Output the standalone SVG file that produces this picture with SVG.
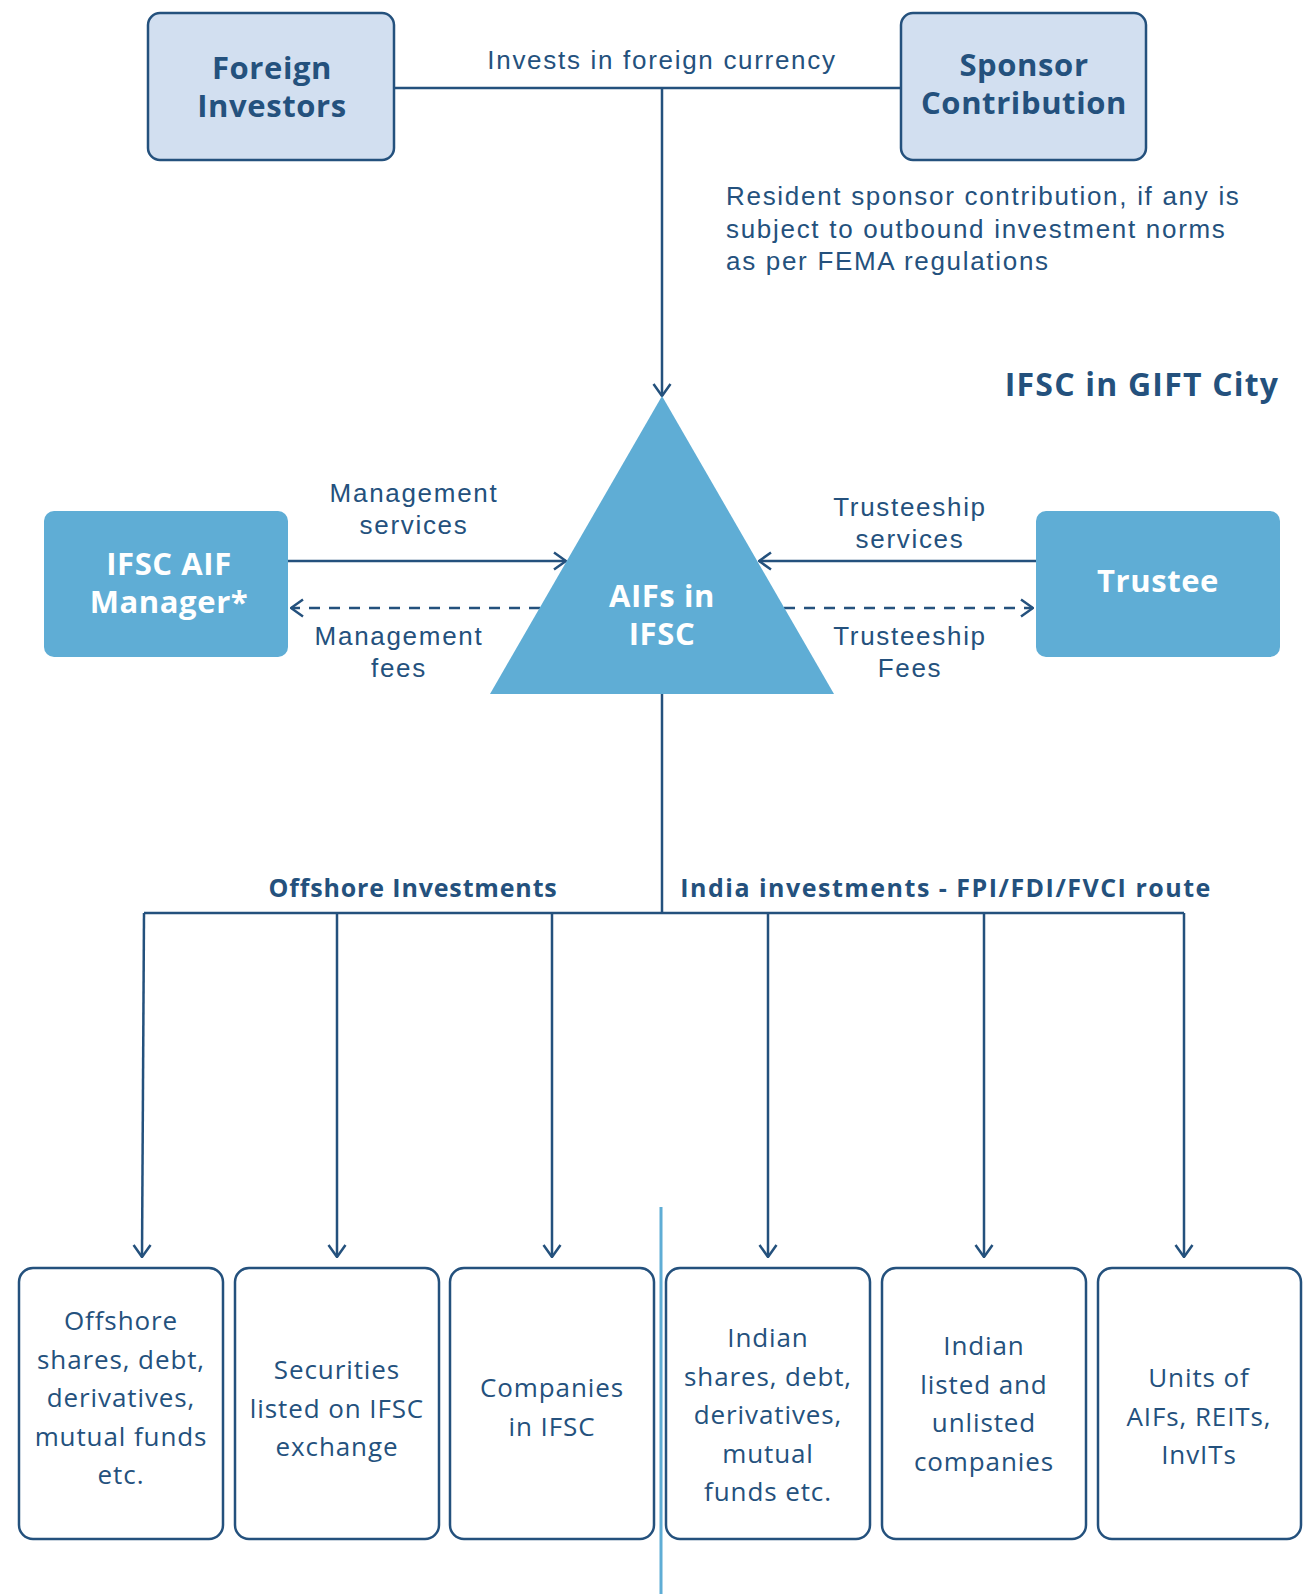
<svg xmlns="http://www.w3.org/2000/svg" width="1303" height="1594" viewBox="0 0 1303 1594">
<defs>
<style>
.lbl{font-family:"Liberation Sans",Arial,sans-serif;font-size:26px;letter-spacing:1.7px;fill:#24517d;text-anchor:middle}
.lbl-l{font-family:"Liberation Sans",Arial,sans-serif;font-size:26px;letter-spacing:1.7px;fill:#24517d}
.hb{font-family:"Open Sans","Liberation Sans",sans-serif;font-weight:700;fill:#24517d;text-anchor:middle}
.wb{font-family:"Open Sans","Liberation Sans",sans-serif;font-weight:700;fill:#ffffff;text-anchor:middle;font-size:31px;letter-spacing:0.6px}
.line{fill:none;stroke:#24517d;stroke-width:2.5}
.dash{fill:none;stroke:#24517d;stroke-width:2.5;stroke-dasharray:11 9}
.top{fill:#d2dff0;stroke:#24517d;stroke-width:2.5}
.solid{fill:#5fadd5}
.leaf{fill:#ffffff;stroke:#24517d;stroke-width:2.5}
.btxt{font-family:"Open Sans","Liberation Sans",sans-serif;font-size:26px;letter-spacing:0.9px;fill:#24517d;text-anchor:middle}
</style>
<marker id="arr" viewBox="0 0 14 20" refX="13" refY="10" markerWidth="14" markerHeight="20" orient="auto" markerUnits="userSpaceOnUse">
<path d="M1,1.5 L13,10 L1,18.5" fill="none" stroke="#24517d" stroke-width="2.5"/>
</marker>
</defs>
<rect width="1303" height="1594" fill="#ffffff"/>

<g id="connectors">
<path class="line" d="M394,88 H901"/>
<path class="line" d="M662,88 V396" marker-end="url(#arr)"/>
<path class="line" d="M288,561 H566" marker-end="url(#arr)"/>
<path class="dash" d="M540,608 H291" marker-end="url(#arr)"/>
<path class="line" d="M1036,561 H759" marker-end="url(#arr)"/>
<path class="dash" d="M784,608 H1033" marker-end="url(#arr)"/>
<path class="line" d="M662,694 V913"/>
<path class="line" d="M144,913 H1184"/>
<path class="line" d="M144,913 L142,1257" marker-end="url(#arr)"/>
<path class="line" d="M337,913 V1257" marker-end="url(#arr)"/>
<path class="line" d="M552,913 V1257" marker-end="url(#arr)"/>
<path class="line" d="M768,913 V1257" marker-end="url(#arr)"/>
<path class="line" d="M984,913 V1257" marker-end="url(#arr)"/>
<path class="line" d="M1184,913 V1257" marker-end="url(#arr)"/>
<line x1="661" y1="1207" x2="661" y2="1594" stroke="#5fadd5" stroke-width="3"/>
</g>

<g id="labels">
<text class="lbl" x="662" y="69">Invests in foreign currency</text>
<text class="lbl-l" x="726" y="205">Resident sponsor contribution, if any is<tspan x="726" dy="33">subject to outbound investment norms</tspan><tspan x="726" dy="32">as per FEMA regulations</tspan></text>
<text class="hb" x="1142" y="396" font-size="32" letter-spacing="1.2">IFSC in GIFT City</text>
<text class="lbl" x="414" y="502">Management<tspan x="414" dy="32">services</tspan></text>
<text class="lbl" x="399" y="645">Management<tspan x="399" dy="32">fees</tspan></text>
<text class="lbl" x="910" y="516">Trusteeship<tspan x="910" dy="32">services</tspan></text>
<text class="lbl" x="910" y="645">Trusteeship<tspan x="910" dy="32">Fees</tspan></text>
<text class="hb" x="413" y="897" font-size="25" letter-spacing="0.85">Offshore Investments</text>
<text class="hb" x="946" y="897" font-size="25" letter-spacing="1.5">India investments - FPI/FDI/FVCI route</text>
</g>

<g id="foreign-investors">
<rect class="top" x="148" y="13" width="246" height="147" rx="12"/>
<text class="hb" x="272" y="79" font-size="31" letter-spacing="0.6">Foreign<tspan x="272" dy="38">Investors</tspan></text>
</g>

<g id="sponsor-contribution">
<rect class="top" x="901" y="13" width="245" height="147" rx="12"/>
<text class="hb" x="1024" y="76" font-size="31" letter-spacing="0.6">Sponsor<tspan x="1024" dy="38">Contribution</tspan></text>
</g>

<g id="aifs-in-ifsc">
<polygon class="solid" points="662,396 834,694 490,694"/>
<text class="wb" x="662" y="607">AIFs in<tspan x="662" dy="38">IFSC</tspan></text>
</g>

<g id="ifsc-aif-manager">
<rect class="solid" x="44" y="511" width="244" height="146" rx="10"/>
<text class="wb" x="169" y="575">IFSC AIF<tspan x="169" dy="38">Manager*</tspan></text>
</g>

<g id="trustee">
<rect class="solid" x="1036" y="511" width="244" height="146" rx="10"/>
<text class="wb" x="1158" y="592">Trustee</text>
</g>

<g id="offshore-shares">
<rect class="leaf" x="19" y="1268" width="204" height="271" rx="14"/>
<text class="btxt" x="121" y="1330">Offshore<tspan x="121" dy="38.5">shares, debt,</tspan><tspan x="121" dy="38.5">derivatives,</tspan><tspan x="121" dy="38.5">mutual funds</tspan><tspan x="121" dy="38.5">etc.</tspan></text>
</g>

<g id="securities-ifsc">
<rect class="leaf" x="235" y="1268" width="204" height="271" rx="14"/>
<text class="btxt" x="337" y="1379">Securities<tspan x="337" dy="38.5">listed on IFSC</tspan><tspan x="337" dy="38.5">exchange</tspan></text>
</g>

<g id="companies-ifsc">
<rect class="leaf" x="450" y="1268" width="204" height="271" rx="14"/>
<text class="btxt" x="552" y="1397">Companies<tspan x="552" dy="38.5">in IFSC</tspan></text>
</g>

<g id="indian-shares">
<rect class="leaf" x="666" y="1268" width="204" height="271" rx="14"/>
<text class="btxt" x="768" y="1347">Indian<tspan x="768" dy="38.5">shares, debt,</tspan><tspan x="768" dy="38.5">derivatives,</tspan><tspan x="768" dy="38.5">mutual</tspan><tspan x="768" dy="38.5">funds etc.</tspan></text>
</g>

<g id="indian-companies">
<rect class="leaf" x="882" y="1268" width="204" height="271" rx="14"/>
<text class="btxt" x="984" y="1355">Indian<tspan x="984" dy="38.5">listed and</tspan><tspan x="984" dy="38.5">unlisted</tspan><tspan x="984" dy="38.5">companies</tspan></text>
</g>

<g id="units-aifs">
<rect class="leaf" x="1098" y="1268" width="203" height="271" rx="14"/>
<text class="btxt" x="1199" y="1387">Units of<tspan x="1199" dy="38.5">AIFs, REITs,</tspan><tspan x="1199" dy="38.5">InvITs</tspan></text>
</g>
</svg>
